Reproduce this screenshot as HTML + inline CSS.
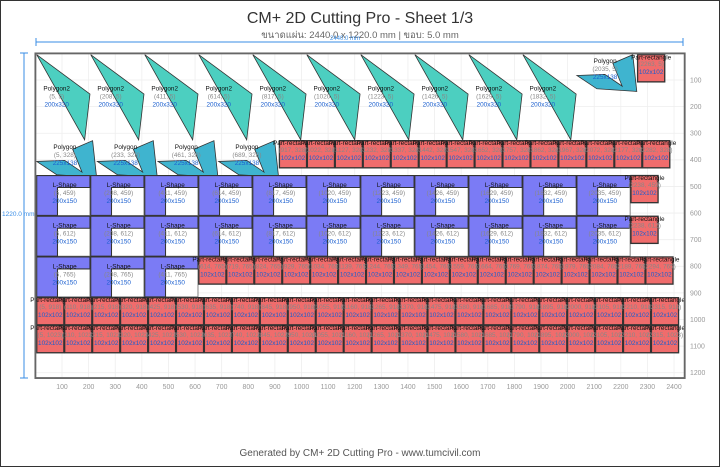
<!DOCTYPE html>
<html><head><meta charset="utf-8"><style>
html,body{margin:0;padding:0;background:#fff}
svg{display:block}
text{font-family:"Liberation Sans","DejaVu Sans",sans-serif}
.m text{font-size:24px;text-anchor:middle}
.n{fill:#111}.c{fill:#888}.s{fill:#1a5fd0}
.r rect{fill:#f06c6c;stroke:#333;stroke-width:5}
.p2{fill:#4ccfc0;stroke:#333;stroke-width:3}
.p1{fill:#3fb4cf;stroke:#333;stroke-width:3}
.lb{fill:#fff;stroke:#666;stroke-width:3}
.lp{fill:#7b7bf5;stroke:#333;stroke-width:4}
.m text.ax{font-size:26px;fill:#999}
.g line{stroke:#eee;stroke-width:3}
</style></head><body>
<svg width="720" height="467" viewBox="0 0 720 467" xmlns="http://www.w3.org/2000/svg">
<rect x="0.5" y="0.5" width="719" height="466" fill="#fff" stroke="#333"/>
<text x="360" y="23" font-size="16" fill="#333" text-anchor="middle">CM+ 2D Cutting Pro - Sheet 1/3</text>
<text x="360" y="38" font-size="9.5" fill="#666" text-anchor="middle">ขนาดแผ่น: 2440.0 x 1220.0 mm | ขอบ: 5.0 mm</text>
<text x="345" y="40" font-size="6" fill="#3a8ee6" text-anchor="middle">2440.0 mm</text>
<g stroke="#3a8ee6" stroke-width="1"><line x1="36" y1="42" x2="683" y2="42"/><line x1="36" y1="38" x2="36" y2="46"/><line x1="683" y1="38" x2="683" y2="46"/>
<line x1="24" y1="53" x2="24" y2="378"/><line x1="20" y1="53" x2="28" y2="53"/><line x1="20" y1="378" x2="28" y2="378"/></g>
<text x="2" y="216" font-size="6.5" fill="#3a8ee6">1220.0 mm</text>
<text x="360" y="456" font-size="10" fill="#555" text-anchor="middle">Generated by CM+ 2D Cutting Pro - www.tumcivil.com</text>

<g class="m" transform="translate(35.4,53.4) scale(0.2661)">
<g class="g">
<line x1="100" y1="0" x2="100" y2="1220"/><line x1="200" y1="0" x2="200" y2="1220"/><line x1="300" y1="0" x2="300" y2="1220"/><line x1="400" y1="0" x2="400" y2="1220"/><line x1="500" y1="0" x2="500" y2="1220"/><line x1="600" y1="0" x2="600" y2="1220"/><line x1="700" y1="0" x2="700" y2="1220"/><line x1="800" y1="0" x2="800" y2="1220"/><line x1="900" y1="0" x2="900" y2="1220"/><line x1="1000" y1="0" x2="1000" y2="1220"/><line x1="1100" y1="0" x2="1100" y2="1220"/><line x1="1200" y1="0" x2="1200" y2="1220"/><line x1="1300" y1="0" x2="1300" y2="1220"/><line x1="1400" y1="0" x2="1400" y2="1220"/><line x1="1500" y1="0" x2="1500" y2="1220"/><line x1="1600" y1="0" x2="1600" y2="1220"/><line x1="1700" y1="0" x2="1700" y2="1220"/><line x1="1800" y1="0" x2="1800" y2="1220"/><line x1="1900" y1="0" x2="1900" y2="1220"/><line x1="2000" y1="0" x2="2000" y2="1220"/><line x1="2100" y1="0" x2="2100" y2="1220"/><line x1="2200" y1="0" x2="2200" y2="1220"/><line x1="2300" y1="0" x2="2300" y2="1220"/><line x1="2400" y1="0" x2="2400" y2="1220"/>
<line x1="0" y1="100" x2="2440" y2="100"/><line x1="0" y1="200" x2="2440" y2="200"/><line x1="0" y1="300" x2="2440" y2="300"/><line x1="0" y1="400" x2="2440" y2="400"/><line x1="0" y1="500" x2="2440" y2="500"/><line x1="0" y1="600" x2="2440" y2="600"/><line x1="0" y1="700" x2="2440" y2="700"/><line x1="0" y1="800" x2="2440" y2="800"/><line x1="0" y1="900" x2="2440" y2="900"/><line x1="0" y1="1000" x2="2440" y2="1000"/><line x1="0" y1="1100" x2="2440" y2="1100"/><line x1="0" y1="1200" x2="2440" y2="1200"/>
</g>
<g style="text-anchor:middle">
<text class="ax" x="100" y="1262">100</text><text class="ax" x="200" y="1262">200</text><text class="ax" x="300" y="1262">300</text><text class="ax" x="400" y="1262">400</text><text class="ax" x="500" y="1262">500</text><text class="ax" x="600" y="1262">600</text><text class="ax" x="700" y="1262">700</text><text class="ax" x="800" y="1262">800</text><text class="ax" x="900" y="1262">900</text><text class="ax" x="1000" y="1262">1000</text><text class="ax" x="1100" y="1262">1100</text><text class="ax" x="1200" y="1262">1200</text><text class="ax" x="1300" y="1262">1300</text><text class="ax" x="1400" y="1262">1400</text><text class="ax" x="1500" y="1262">1500</text><text class="ax" x="1600" y="1262">1600</text><text class="ax" x="1700" y="1262">1700</text><text class="ax" x="1800" y="1262">1800</text><text class="ax" x="1900" y="1262">1900</text><text class="ax" x="2000" y="1262">2000</text><text class="ax" x="2100" y="1262">2100</text><text class="ax" x="2200" y="1262">2200</text><text class="ax" x="2300" y="1262">2300</text><text class="ax" x="2400" y="1262">2400</text>
</g>
<g>
<text class="ax" style="text-anchor:start" x="2460" y="109">100</text><text class="ax" style="text-anchor:start" x="2460" y="209">200</text><text class="ax" style="text-anchor:start" x="2460" y="309">300</text><text class="ax" style="text-anchor:start" x="2460" y="409">400</text><text class="ax" style="text-anchor:start" x="2460" y="509">500</text><text class="ax" style="text-anchor:start" x="2460" y="609">600</text><text class="ax" style="text-anchor:start" x="2460" y="709">700</text><text class="ax" style="text-anchor:start" x="2460" y="809">800</text><text class="ax" style="text-anchor:start" x="2460" y="909">900</text><text class="ax" style="text-anchor:start" x="2460" y="1009">1000</text><text class="ax" style="text-anchor:start" x="2460" y="1109">1100</text><text class="ax" style="text-anchor:start" x="2460" y="1209">1200</text>
</g>

<g transform="translate(5,5)"><polygon class="p2" points="0,0 200,148 180,320"/><text class="n" x="75" y="134">Polygon2</text><text class="c" x="75" y="164">(5, 5)</text><text class="s" x="75" y="194">200x320</text></g>
<g transform="translate(208,5)"><polygon class="p2" points="0,0 200,148 180,320"/><text class="n" x="75" y="134">Polygon2</text><text class="c" x="75" y="164">(208, 5)</text><text class="s" x="75" y="194">200x320</text></g>
<g transform="translate(411,5)"><polygon class="p2" points="0,0 200,148 180,320"/><text class="n" x="75" y="134">Polygon2</text><text class="c" x="75" y="164">(411, 5)</text><text class="s" x="75" y="194">200x320</text></g>
<g transform="translate(614,5)"><polygon class="p2" points="0,0 200,148 180,320"/><text class="n" x="75" y="134">Polygon2</text><text class="c" x="75" y="164">(614, 5)</text><text class="s" x="75" y="194">200x320</text></g>
<g transform="translate(817,5)"><polygon class="p2" points="0,0 200,148 180,320"/><text class="n" x="75" y="134">Polygon2</text><text class="c" x="75" y="164">(817, 5)</text><text class="s" x="75" y="194">200x320</text></g>
<g transform="translate(1020,5)"><polygon class="p2" points="0,0 200,148 180,320"/><text class="n" x="75" y="134">Polygon2</text><text class="c" x="75" y="164">(1020, 5)</text><text class="s" x="75" y="194">200x320</text></g>
<g transform="translate(1223,5)"><polygon class="p2" points="0,0 200,148 180,320"/><text class="n" x="75" y="134">Polygon2</text><text class="c" x="75" y="164">(1223, 5)</text><text class="s" x="75" y="194">200x320</text></g>
<g transform="translate(1426,5)"><polygon class="p2" points="0,0 200,148 180,320"/><text class="n" x="75" y="134">Polygon2</text><text class="c" x="75" y="164">(1426, 5)</text><text class="s" x="75" y="194">200x320</text></g>
<g transform="translate(1629,5)"><polygon class="p2" points="0,0 200,148 180,320"/><text class="n" x="75" y="134">Polygon2</text><text class="c" x="75" y="164">(1629, 5)</text><text class="s" x="75" y="194">200x320</text></g>
<g transform="translate(1832,5)"><polygon class="p2" points="0,0 200,148 180,320"/><text class="n" x="75" y="134">Polygon2</text><text class="c" x="75" y="164">(1832, 5)</text><text class="s" x="75" y="194">200x320</text></g>

<g transform="translate(5,328)"><polygon class="p1" points="0,78 105,74 170,118 135,32 210,0 225,138 75,128"/><text class="n" x="106" y="32">Polygon</text><text class="c" x="106" y="62">(5, 328)</text><text class="s" x="106" y="92">225x138</text></g>
<g transform="translate(233,328)"><polygon class="p1" points="0,78 105,74 170,118 135,32 210,0 225,138 75,128"/><text class="n" x="106" y="32">Polygon</text><text class="c" x="106" y="62">(233, 328)</text><text class="s" x="106" y="92">225x138</text></g>
<g transform="translate(461,328)"><polygon class="p1" points="0,78 105,74 170,118 135,32 210,0 225,138 75,128"/><text class="n" x="106" y="32">Polygon</text><text class="c" x="106" y="62">(461, 328)</text><text class="s" x="106" y="92">225x138</text></g>
<g transform="translate(689,328)"><polygon class="p1" points="0,78 105,74 170,118 135,32 210,0 225,138 75,128"/><text class="n" x="106" y="32">Polygon</text><text class="c" x="106" y="62">(689, 328)</text><text class="s" x="106" y="92">225x138</text></g>
<g transform="translate(2035,5)"><polygon class="p1" points="0,78 105,74 170,118 135,32 210,0 225,138 75,128"/><text class="n" x="106" y="32">Polygon</text><text class="c" x="106" y="62">(2035, 5)</text><text class="s" x="106" y="92">225x138</text></g>

<g transform="translate(5,459)"><rect class="lb" width="200" height="150"/><path class="lp" d="M0 0H200V45H78V150H0Z"/><text class="n" x="105" y="43">L-Shape</text><text class="c" x="105" y="73">(5, 459)</text><text class="s" x="105" y="103">200x150</text></g>
<g transform="translate(208,459)"><rect class="lb" width="200" height="150"/><path class="lp" d="M0 0H200V45H78V150H0Z"/><text class="n" x="105" y="43">L-Shape</text><text class="c" x="105" y="73">(208, 459)</text><text class="s" x="105" y="103">200x150</text></g>
<g transform="translate(411,459)"><rect class="lb" width="200" height="150"/><path class="lp" d="M0 0H200V45H78V150H0Z"/><text class="n" x="105" y="43">L-Shape</text><text class="c" x="105" y="73">(411, 459)</text><text class="s" x="105" y="103">200x150</text></g>
<g transform="translate(614,459)"><rect class="lb" width="200" height="150"/><path class="lp" d="M0 0H200V45H78V150H0Z"/><text class="n" x="105" y="43">L-Shape</text><text class="c" x="105" y="73">(614, 459)</text><text class="s" x="105" y="103">200x150</text></g>
<g transform="translate(817,459)"><rect class="lb" width="200" height="150"/><path class="lp" d="M0 0H200V45H78V150H0Z"/><text class="n" x="105" y="43">L-Shape</text><text class="c" x="105" y="73">(817, 459)</text><text class="s" x="105" y="103">200x150</text></g>
<g transform="translate(1020,459)"><rect class="lb" width="200" height="150"/><path class="lp" d="M0 0H200V45H78V150H0Z"/><text class="n" x="105" y="43">L-Shape</text><text class="c" x="105" y="73">(1020, 459)</text><text class="s" x="105" y="103">200x150</text></g>
<g transform="translate(1223,459)"><rect class="lb" width="200" height="150"/><path class="lp" d="M0 0H200V45H78V150H0Z"/><text class="n" x="105" y="43">L-Shape</text><text class="c" x="105" y="73">(1223, 459)</text><text class="s" x="105" y="103">200x150</text></g>
<g transform="translate(1426,459)"><rect class="lb" width="200" height="150"/><path class="lp" d="M0 0H200V45H78V150H0Z"/><text class="n" x="105" y="43">L-Shape</text><text class="c" x="105" y="73">(1426, 459)</text><text class="s" x="105" y="103">200x150</text></g>
<g transform="translate(1629,459)"><rect class="lb" width="200" height="150"/><path class="lp" d="M0 0H200V45H78V150H0Z"/><text class="n" x="105" y="43">L-Shape</text><text class="c" x="105" y="73">(1629, 459)</text><text class="s" x="105" y="103">200x150</text></g>
<g transform="translate(1832,459)"><rect class="lb" width="200" height="150"/><path class="lp" d="M0 0H200V45H78V150H0Z"/><text class="n" x="105" y="43">L-Shape</text><text class="c" x="105" y="73">(1832, 459)</text><text class="s" x="105" y="103">200x150</text></g>
<g transform="translate(2035,459)"><rect class="lb" width="200" height="150"/><path class="lp" d="M0 0H200V45H78V150H0Z"/><text class="n" x="105" y="43">L-Shape</text><text class="c" x="105" y="73">(2035, 459)</text><text class="s" x="105" y="103">200x150</text></g>

<g transform="translate(5,612)"><rect class="lb" width="200" height="150"/><path class="lp" d="M0 0H200V45H78V150H0Z"/><text class="n" x="105" y="43">L-Shape</text><text class="c" x="105" y="73">(5, 612)</text><text class="s" x="105" y="103">200x150</text></g>
<g transform="translate(208,612)"><rect class="lb" width="200" height="150"/><path class="lp" d="M0 0H200V45H78V150H0Z"/><text class="n" x="105" y="43">L-Shape</text><text class="c" x="105" y="73">(208, 612)</text><text class="s" x="105" y="103">200x150</text></g>
<g transform="translate(411,612)"><rect class="lb" width="200" height="150"/><path class="lp" d="M0 0H200V45H78V150H0Z"/><text class="n" x="105" y="43">L-Shape</text><text class="c" x="105" y="73">(411, 612)</text><text class="s" x="105" y="103">200x150</text></g>
<g transform="translate(614,612)"><rect class="lb" width="200" height="150"/><path class="lp" d="M0 0H200V45H78V150H0Z"/><text class="n" x="105" y="43">L-Shape</text><text class="c" x="105" y="73">(614, 612)</text><text class="s" x="105" y="103">200x150</text></g>
<g transform="translate(817,612)"><rect class="lb" width="200" height="150"/><path class="lp" d="M0 0H200V45H78V150H0Z"/><text class="n" x="105" y="43">L-Shape</text><text class="c" x="105" y="73">(817, 612)</text><text class="s" x="105" y="103">200x150</text></g>
<g transform="translate(1020,612)"><rect class="lb" width="200" height="150"/><path class="lp" d="M0 0H200V45H78V150H0Z"/><text class="n" x="105" y="43">L-Shape</text><text class="c" x="105" y="73">(1020, 612)</text><text class="s" x="105" y="103">200x150</text></g>
<g transform="translate(1223,612)"><rect class="lb" width="200" height="150"/><path class="lp" d="M0 0H200V45H78V150H0Z"/><text class="n" x="105" y="43">L-Shape</text><text class="c" x="105" y="73">(1223, 612)</text><text class="s" x="105" y="103">200x150</text></g>
<g transform="translate(1426,612)"><rect class="lb" width="200" height="150"/><path class="lp" d="M0 0H200V45H78V150H0Z"/><text class="n" x="105" y="43">L-Shape</text><text class="c" x="105" y="73">(1426, 612)</text><text class="s" x="105" y="103">200x150</text></g>
<g transform="translate(1629,612)"><rect class="lb" width="200" height="150"/><path class="lp" d="M0 0H200V45H78V150H0Z"/><text class="n" x="105" y="43">L-Shape</text><text class="c" x="105" y="73">(1629, 612)</text><text class="s" x="105" y="103">200x150</text></g>
<g transform="translate(1832,612)"><rect class="lb" width="200" height="150"/><path class="lp" d="M0 0H200V45H78V150H0Z"/><text class="n" x="105" y="43">L-Shape</text><text class="c" x="105" y="73">(1832, 612)</text><text class="s" x="105" y="103">200x150</text></g>
<g transform="translate(2035,612)"><rect class="lb" width="200" height="150"/><path class="lp" d="M0 0H200V45H78V150H0Z"/><text class="n" x="105" y="43">L-Shape</text><text class="c" x="105" y="73">(2035, 612)</text><text class="s" x="105" y="103">200x150</text></g>

<g transform="translate(5,765)"><rect class="lb" width="200" height="150"/><path class="lp" d="M0 0H200V45H78V150H0Z"/><text class="n" x="105" y="43">L-Shape</text><text class="c" x="105" y="73">(5, 765)</text><text class="s" x="105" y="103">200x150</text></g>
<g transform="translate(208,765)"><rect class="lb" width="200" height="150"/><path class="lp" d="M0 0H200V45H78V150H0Z"/><text class="n" x="105" y="43">L-Shape</text><text class="c" x="105" y="73">(208, 765)</text><text class="s" x="105" y="103">200x150</text></g>
<g transform="translate(411,765)"><rect class="lb" width="200" height="150"/><path class="lp" d="M0 0H200V45H78V150H0Z"/><text class="n" x="105" y="43">L-Shape</text><text class="c" x="105" y="73">(411, 765)</text><text class="s" x="105" y="103">200x150</text></g>

<g class="r">
<g transform="translate(2263,5)"><rect width="102" height="102"/><text class="n" x="51" y="17">Part-rectangle</text><text class="c" x="51" y="43">(2263, 5)</text><text class="s" x="51" y="73">102x102</text></g>
<g transform="translate(2238,459)"><rect width="102" height="102"/><text class="n" x="51" y="17">Part-rectangle</text><text class="c" x="51" y="43">(2238, 459)</text><text class="s" x="51" y="73">102x102</text></g>
<g transform="translate(2238,612)"><rect width="102" height="102"/><text class="n" x="51" y="17">Part-rectangle</text><text class="c" x="51" y="43">(2238, 612)</text><text class="s" x="51" y="73">102x102</text></g>

<g transform="translate(917,328)"><rect width="102" height="102"/><text class="n" x="51" y="17">Part-rectangle</text><text class="c" x="51" y="43">(917, 328)</text><text class="s" x="51" y="73">102x102</text></g>
<g transform="translate(1022,328)"><rect width="102" height="102"/><text class="n" x="51" y="17">Part-rectangle</text><text class="c" x="51" y="43">(1022, 328)</text><text class="s" x="51" y="73">102x102</text></g>
<g transform="translate(1127,328)"><rect width="102" height="102"/><text class="n" x="51" y="17">Part-rectangle</text><text class="c" x="51" y="43">(1127, 328)</text><text class="s" x="51" y="73">102x102</text></g>
<g transform="translate(1232,328)"><rect width="102" height="102"/><text class="n" x="51" y="17">Part-rectangle</text><text class="c" x="51" y="43">(1232, 328)</text><text class="s" x="51" y="73">102x102</text></g>
<g transform="translate(1337,328)"><rect width="102" height="102"/><text class="n" x="51" y="17">Part-rectangle</text><text class="c" x="51" y="43">(1337, 328)</text><text class="s" x="51" y="73">102x102</text></g>
<g transform="translate(1442,328)"><rect width="102" height="102"/><text class="n" x="51" y="17">Part-rectangle</text><text class="c" x="51" y="43">(1442, 328)</text><text class="s" x="51" y="73">102x102</text></g>
<g transform="translate(1547,328)"><rect width="102" height="102"/><text class="n" x="51" y="17">Part-rectangle</text><text class="c" x="51" y="43">(1547, 328)</text><text class="s" x="51" y="73">102x102</text></g>
<g transform="translate(1652,328)"><rect width="102" height="102"/><text class="n" x="51" y="17">Part-rectangle</text><text class="c" x="51" y="43">(1652, 328)</text><text class="s" x="51" y="73">102x102</text></g>
<g transform="translate(1757,328)"><rect width="102" height="102"/><text class="n" x="51" y="17">Part-rectangle</text><text class="c" x="51" y="43">(1757, 328)</text><text class="s" x="51" y="73">102x102</text></g>
<g transform="translate(1862,328)"><rect width="102" height="102"/><text class="n" x="51" y="17">Part-rectangle</text><text class="c" x="51" y="43">(1862, 328)</text><text class="s" x="51" y="73">102x102</text></g>
<g transform="translate(1967,328)"><rect width="102" height="102"/><text class="n" x="51" y="17">Part-rectangle</text><text class="c" x="51" y="43">(1967, 328)</text><text class="s" x="51" y="73">102x102</text></g>
<g transform="translate(2072,328)"><rect width="102" height="102"/><text class="n" x="51" y="17">Part-rectangle</text><text class="c" x="51" y="43">(2072, 328)</text><text class="s" x="51" y="73">102x102</text></g>
<g transform="translate(2177,328)"><rect width="102" height="102"/><text class="n" x="51" y="17">Part-rectangle</text><text class="c" x="51" y="43">(2177, 328)</text><text class="s" x="51" y="73">102x102</text></g>
<g transform="translate(2282,328)"><rect width="102" height="102"/><text class="n" x="51" y="17">Part-rectangle</text><text class="c" x="51" y="43">(2282, 328)</text><text class="s" x="51" y="73">102x102</text></g>

<g transform="translate(614,765)"><rect width="102" height="102"/><text class="n" x="51" y="17">Part-rectangle</text><text class="c" x="51" y="43">(614, 765)</text><text class="s" x="51" y="73">102x102</text></g>
<g transform="translate(719,765)"><rect width="102" height="102"/><text class="n" x="51" y="17">Part-rectangle</text><text class="c" x="51" y="43">(719, 765)</text><text class="s" x="51" y="73">102x102</text></g>
<g transform="translate(824,765)"><rect width="102" height="102"/><text class="n" x="51" y="17">Part-rectangle</text><text class="c" x="51" y="43">(824, 765)</text><text class="s" x="51" y="73">102x102</text></g>
<g transform="translate(929,765)"><rect width="102" height="102"/><text class="n" x="51" y="17">Part-rectangle</text><text class="c" x="51" y="43">(929, 765)</text><text class="s" x="51" y="73">102x102</text></g>
<g transform="translate(1034,765)"><rect width="102" height="102"/><text class="n" x="51" y="17">Part-rectangle</text><text class="c" x="51" y="43">(1034, 765)</text><text class="s" x="51" y="73">102x102</text></g>
<g transform="translate(1139,765)"><rect width="102" height="102"/><text class="n" x="51" y="17">Part-rectangle</text><text class="c" x="51" y="43">(1139, 765)</text><text class="s" x="51" y="73">102x102</text></g>
<g transform="translate(1244,765)"><rect width="102" height="102"/><text class="n" x="51" y="17">Part-rectangle</text><text class="c" x="51" y="43">(1244, 765)</text><text class="s" x="51" y="73">102x102</text></g>
<g transform="translate(1349,765)"><rect width="102" height="102"/><text class="n" x="51" y="17">Part-rectangle</text><text class="c" x="51" y="43">(1349, 765)</text><text class="s" x="51" y="73">102x102</text></g>
<g transform="translate(1454,765)"><rect width="102" height="102"/><text class="n" x="51" y="17">Part-rectangle</text><text class="c" x="51" y="43">(1454, 765)</text><text class="s" x="51" y="73">102x102</text></g>
<g transform="translate(1559,765)"><rect width="102" height="102"/><text class="n" x="51" y="17">Part-rectangle</text><text class="c" x="51" y="43">(1559, 765)</text><text class="s" x="51" y="73">102x102</text></g>
<g transform="translate(1664,765)"><rect width="102" height="102"/><text class="n" x="51" y="17">Part-rectangle</text><text class="c" x="51" y="43">(1664, 765)</text><text class="s" x="51" y="73">102x102</text></g>
<g transform="translate(1769,765)"><rect width="102" height="102"/><text class="n" x="51" y="17">Part-rectangle</text><text class="c" x="51" y="43">(1769, 765)</text><text class="s" x="51" y="73">102x102</text></g>
<g transform="translate(1874,765)"><rect width="102" height="102"/><text class="n" x="51" y="17">Part-rectangle</text><text class="c" x="51" y="43">(1874, 765)</text><text class="s" x="51" y="73">102x102</text></g>
<g transform="translate(1979,765)"><rect width="102" height="102"/><text class="n" x="51" y="17">Part-rectangle</text><text class="c" x="51" y="43">(1979, 765)</text><text class="s" x="51" y="73">102x102</text></g>
<g transform="translate(2084,765)"><rect width="102" height="102"/><text class="n" x="51" y="17">Part-rectangle</text><text class="c" x="51" y="43">(2084, 765)</text><text class="s" x="51" y="73">102x102</text></g>
<g transform="translate(2189,765)"><rect width="102" height="102"/><text class="n" x="51" y="17">Part-rectangle</text><text class="c" x="51" y="43">(2189, 765)</text><text class="s" x="51" y="73">102x102</text></g>
<g transform="translate(2294,765)"><rect width="102" height="102"/><text class="n" x="51" y="17">Part-rectangle</text><text class="c" x="51" y="43">(2294, 765)</text><text class="s" x="51" y="73">102x102</text></g>

<g transform="translate(5,918)"><rect width="102" height="102"/><text class="n" x="51" y="17">Part-rectangle</text><text class="c" x="51" y="43">(5, 918)</text><text class="s" x="51" y="73">102x102</text></g>
<g transform="translate(110,918)"><rect width="102" height="102"/><text class="n" x="51" y="17">Part-rectangle</text><text class="c" x="51" y="43">(110, 918)</text><text class="s" x="51" y="73">102x102</text></g>
<g transform="translate(215,918)"><rect width="102" height="102"/><text class="n" x="51" y="17">Part-rectangle</text><text class="c" x="51" y="43">(215, 918)</text><text class="s" x="51" y="73">102x102</text></g>
<g transform="translate(320,918)"><rect width="102" height="102"/><text class="n" x="51" y="17">Part-rectangle</text><text class="c" x="51" y="43">(320, 918)</text><text class="s" x="51" y="73">102x102</text></g>
<g transform="translate(425,918)"><rect width="102" height="102"/><text class="n" x="51" y="17">Part-rectangle</text><text class="c" x="51" y="43">(425, 918)</text><text class="s" x="51" y="73">102x102</text></g>
<g transform="translate(530,918)"><rect width="102" height="102"/><text class="n" x="51" y="17">Part-rectangle</text><text class="c" x="51" y="43">(530, 918)</text><text class="s" x="51" y="73">102x102</text></g>
<g transform="translate(635,918)"><rect width="102" height="102"/><text class="n" x="51" y="17">Part-rectangle</text><text class="c" x="51" y="43">(635, 918)</text><text class="s" x="51" y="73">102x102</text></g>
<g transform="translate(740,918)"><rect width="102" height="102"/><text class="n" x="51" y="17">Part-rectangle</text><text class="c" x="51" y="43">(740, 918)</text><text class="s" x="51" y="73">102x102</text></g>
<g transform="translate(845,918)"><rect width="102" height="102"/><text class="n" x="51" y="17">Part-rectangle</text><text class="c" x="51" y="43">(845, 918)</text><text class="s" x="51" y="73">102x102</text></g>
<g transform="translate(950,918)"><rect width="102" height="102"/><text class="n" x="51" y="17">Part-rectangle</text><text class="c" x="51" y="43">(950, 918)</text><text class="s" x="51" y="73">102x102</text></g>
<g transform="translate(1055,918)"><rect width="102" height="102"/><text class="n" x="51" y="17">Part-rectangle</text><text class="c" x="51" y="43">(1055, 918)</text><text class="s" x="51" y="73">102x102</text></g>
<g transform="translate(1160,918)"><rect width="102" height="102"/><text class="n" x="51" y="17">Part-rectangle</text><text class="c" x="51" y="43">(1160, 918)</text><text class="s" x="51" y="73">102x102</text></g>
<g transform="translate(1265,918)"><rect width="102" height="102"/><text class="n" x="51" y="17">Part-rectangle</text><text class="c" x="51" y="43">(1265, 918)</text><text class="s" x="51" y="73">102x102</text></g>
<g transform="translate(1370,918)"><rect width="102" height="102"/><text class="n" x="51" y="17">Part-rectangle</text><text class="c" x="51" y="43">(1370, 918)</text><text class="s" x="51" y="73">102x102</text></g>
<g transform="translate(1475,918)"><rect width="102" height="102"/><text class="n" x="51" y="17">Part-rectangle</text><text class="c" x="51" y="43">(1475, 918)</text><text class="s" x="51" y="73">102x102</text></g>
<g transform="translate(1580,918)"><rect width="102" height="102"/><text class="n" x="51" y="17">Part-rectangle</text><text class="c" x="51" y="43">(1580, 918)</text><text class="s" x="51" y="73">102x102</text></g>
<g transform="translate(1685,918)"><rect width="102" height="102"/><text class="n" x="51" y="17">Part-rectangle</text><text class="c" x="51" y="43">(1685, 918)</text><text class="s" x="51" y="73">102x102</text></g>
<g transform="translate(1790,918)"><rect width="102" height="102"/><text class="n" x="51" y="17">Part-rectangle</text><text class="c" x="51" y="43">(1790, 918)</text><text class="s" x="51" y="73">102x102</text></g>
<g transform="translate(1895,918)"><rect width="102" height="102"/><text class="n" x="51" y="17">Part-rectangle</text><text class="c" x="51" y="43">(1895, 918)</text><text class="s" x="51" y="73">102x102</text></g>
<g transform="translate(2000,918)"><rect width="102" height="102"/><text class="n" x="51" y="17">Part-rectangle</text><text class="c" x="51" y="43">(2000, 918)</text><text class="s" x="51" y="73">102x102</text></g>
<g transform="translate(2105,918)"><rect width="102" height="102"/><text class="n" x="51" y="17">Part-rectangle</text><text class="c" x="51" y="43">(2105, 918)</text><text class="s" x="51" y="73">102x102</text></g>
<g transform="translate(2210,918)"><rect width="102" height="102"/><text class="n" x="51" y="17">Part-rectangle</text><text class="c" x="51" y="43">(2210, 918)</text><text class="s" x="51" y="73">102x102</text></g>
<g transform="translate(2315,918)"><rect width="102" height="102"/><text class="n" x="51" y="17">Part-rectangle</text><text class="c" x="51" y="43">(2315, 918)</text><text class="s" x="51" y="73">102x102</text></g>

<g transform="translate(5,1023)"><rect width="102" height="102"/><text class="n" x="51" y="17">Part-rectangle</text><text class="c" x="51" y="43">(5, 1023)</text><text class="s" x="51" y="73">102x102</text></g>
<g transform="translate(110,1023)"><rect width="102" height="102"/><text class="n" x="51" y="17">Part-rectangle</text><text class="c" x="51" y="43">(110, 1023)</text><text class="s" x="51" y="73">102x102</text></g>
<g transform="translate(215,1023)"><rect width="102" height="102"/><text class="n" x="51" y="17">Part-rectangle</text><text class="c" x="51" y="43">(215, 1023)</text><text class="s" x="51" y="73">102x102</text></g>
<g transform="translate(320,1023)"><rect width="102" height="102"/><text class="n" x="51" y="17">Part-rectangle</text><text class="c" x="51" y="43">(320, 1023)</text><text class="s" x="51" y="73">102x102</text></g>
<g transform="translate(425,1023)"><rect width="102" height="102"/><text class="n" x="51" y="17">Part-rectangle</text><text class="c" x="51" y="43">(425, 1023)</text><text class="s" x="51" y="73">102x102</text></g>
<g transform="translate(530,1023)"><rect width="102" height="102"/><text class="n" x="51" y="17">Part-rectangle</text><text class="c" x="51" y="43">(530, 1023)</text><text class="s" x="51" y="73">102x102</text></g>
<g transform="translate(635,1023)"><rect width="102" height="102"/><text class="n" x="51" y="17">Part-rectangle</text><text class="c" x="51" y="43">(635, 1023)</text><text class="s" x="51" y="73">102x102</text></g>
<g transform="translate(740,1023)"><rect width="102" height="102"/><text class="n" x="51" y="17">Part-rectangle</text><text class="c" x="51" y="43">(740, 1023)</text><text class="s" x="51" y="73">102x102</text></g>
<g transform="translate(845,1023)"><rect width="102" height="102"/><text class="n" x="51" y="17">Part-rectangle</text><text class="c" x="51" y="43">(845, 1023)</text><text class="s" x="51" y="73">102x102</text></g>
<g transform="translate(950,1023)"><rect width="102" height="102"/><text class="n" x="51" y="17">Part-rectangle</text><text class="c" x="51" y="43">(950, 1023)</text><text class="s" x="51" y="73">102x102</text></g>
<g transform="translate(1055,1023)"><rect width="102" height="102"/><text class="n" x="51" y="17">Part-rectangle</text><text class="c" x="51" y="43">(1055, 1023)</text><text class="s" x="51" y="73">102x102</text></g>
<g transform="translate(1160,1023)"><rect width="102" height="102"/><text class="n" x="51" y="17">Part-rectangle</text><text class="c" x="51" y="43">(1160, 1023)</text><text class="s" x="51" y="73">102x102</text></g>
<g transform="translate(1265,1023)"><rect width="102" height="102"/><text class="n" x="51" y="17">Part-rectangle</text><text class="c" x="51" y="43">(1265, 1023)</text><text class="s" x="51" y="73">102x102</text></g>
<g transform="translate(1370,1023)"><rect width="102" height="102"/><text class="n" x="51" y="17">Part-rectangle</text><text class="c" x="51" y="43">(1370, 1023)</text><text class="s" x="51" y="73">102x102</text></g>
<g transform="translate(1475,1023)"><rect width="102" height="102"/><text class="n" x="51" y="17">Part-rectangle</text><text class="c" x="51" y="43">(1475, 1023)</text><text class="s" x="51" y="73">102x102</text></g>
<g transform="translate(1580,1023)"><rect width="102" height="102"/><text class="n" x="51" y="17">Part-rectangle</text><text class="c" x="51" y="43">(1580, 1023)</text><text class="s" x="51" y="73">102x102</text></g>
<g transform="translate(1685,1023)"><rect width="102" height="102"/><text class="n" x="51" y="17">Part-rectangle</text><text class="c" x="51" y="43">(1685, 1023)</text><text class="s" x="51" y="73">102x102</text></g>
<g transform="translate(1790,1023)"><rect width="102" height="102"/><text class="n" x="51" y="17">Part-rectangle</text><text class="c" x="51" y="43">(1790, 1023)</text><text class="s" x="51" y="73">102x102</text></g>
<g transform="translate(1895,1023)"><rect width="102" height="102"/><text class="n" x="51" y="17">Part-rectangle</text><text class="c" x="51" y="43">(1895, 1023)</text><text class="s" x="51" y="73">102x102</text></g>
<g transform="translate(2000,1023)"><rect width="102" height="102"/><text class="n" x="51" y="17">Part-rectangle</text><text class="c" x="51" y="43">(2000, 1023)</text><text class="s" x="51" y="73">102x102</text></g>
<g transform="translate(2105,1023)"><rect width="102" height="102"/><text class="n" x="51" y="17">Part-rectangle</text><text class="c" x="51" y="43">(2105, 1023)</text><text class="s" x="51" y="73">102x102</text></g>
<g transform="translate(2210,1023)"><rect width="102" height="102"/><text class="n" x="51" y="17">Part-rectangle</text><text class="c" x="51" y="43">(2210, 1023)</text><text class="s" x="51" y="73">102x102</text></g>
<g transform="translate(2315,1023)"><rect width="102" height="102"/><text class="n" x="51" y="17">Part-rectangle</text><text class="c" x="51" y="43">(2315, 1023)</text><text class="s" x="51" y="73">102x102</text></g>
</g>

<rect x="0" y="0" width="2440" height="1220" fill="none" stroke="#666" stroke-width="7"/>
</g>
</svg>
</body></html>
